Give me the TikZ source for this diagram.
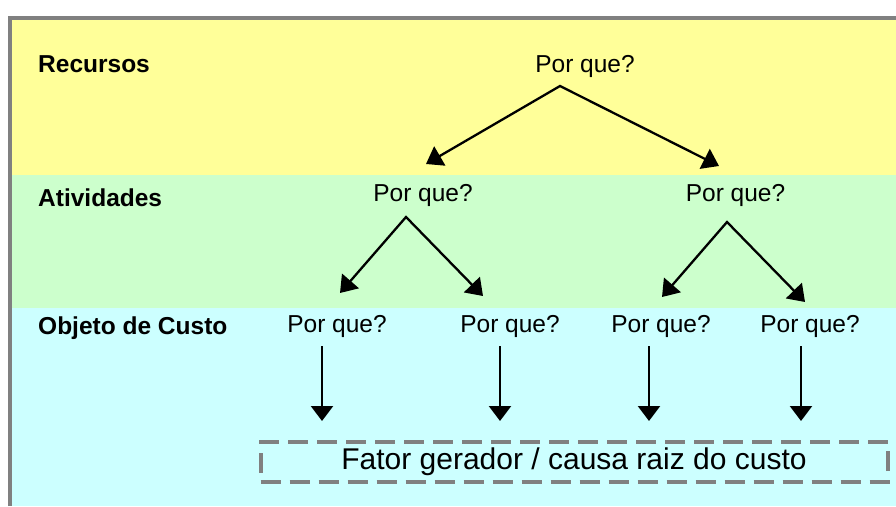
\documentclass[tikz,border=0pt]{standalone}
\usepackage{fontspec}
\setmainfont{Liberation Sans}
\usetikzlibrary{arrows.meta}
\definecolor{bandyellow}{RGB}{255,255,153}
\definecolor{bandgreen}{RGB}{204,255,204}
\definecolor{bandcyan}{RGB}{204,255,255}
\definecolor{framegray}{RGB}{128,128,128}
\begin{document}
\begin{tikzpicture}[x=1pt,y=-1pt,
  lbl/.style={font=\fontsize{24.5}{28}\selectfont, anchor=base, inner sep=0pt},
  bandlbl/.style={font=\bfseries\fontsize{24.5}{28}\selectfont, anchor=base west, inner sep=0pt},
  fork/.style={line width=2.3pt, {Triangle[length=16pt,width=22pt]}-{Triangle[length=16pt,width=22pt]}},
  down/.style={line width=2.3pt, -{Triangle[length=15pt,width=22pt]}},
  causebox/.style={draw=framegray, line width=4pt, dash pattern=on 20pt off 9pt,
    minimum width=627pt, minimum height=40pt, inner sep=0pt,
    font=\fontsize{30}{34}\selectfont},
]
\useasboundingbox (0,0) rectangle (896,506);
\fill[white] (0,0) rectangle (896,506);
\fill[bandyellow] (10,18) rectangle (896,175);
\fill[bandgreen] (10,175) rectangle (896,308);
\fill[bandcyan] (10,308) rectangle (896,506);
\draw[framegray, line width=4pt] (10,506) -- (10,18) -- (896,18);

% band labels
\node[bandlbl] (recursos) at (38,72.7) {Recursos};
\node[bandlbl] (atividades) at (38,206.7) {Atividades};
\node[bandlbl] (objeto) at (38,334) {Objeto de Custo};

% question nodes
\node[lbl] (r) at (585,72.5) {Por que?};
\node[lbl] (a1) at (423,201.5) {Por que?};
\node[lbl] (a2) at (735.5,201.5) {Por que?};
\node[lbl] (o1) at (337,332.7) {Por que?};
\node[lbl] (o2) at (510,332.7) {Por que?};
\node[lbl] (o3) at (661,332.7) {Por que?};
\node[lbl] (o4) at (810,332.7) {Por que?};

\node[causebox] (f) at (574,462) {Fator gerador / causa raiz do custo};

% fork points
\coordinate (rapex) at (560,86);
\coordinate (rtipL) at (426,164);
\coordinate (rtipR) at (719,166);
\coordinate (a1apex) at (406,217);
\coordinate (a1tipL) at (340,293);
\coordinate (a1tipR) at (483,296);
\coordinate (a2apex) at (727,222);
\coordinate (a2tipL) at (662,297);
\coordinate (a2tipR) at (805,302);

\draw[fork] (rtipL) -- (rapex) -- (rtipR);
\draw[fork] (a1tipL) -- (a1apex) -- (a1tipR);
\draw[fork] (a2tipL) -- (a2apex) -- (a2tipR);

% vertical arrows
\foreach \n/\x in {1/322,2/500,3/649,4/801}{
  \coordinate (s\n) at (\x,346);
  \coordinate (t\n) at (\x,421);
  \draw[down] (s\n) -- (t\n);
}
\end{tikzpicture}
\end{document}
